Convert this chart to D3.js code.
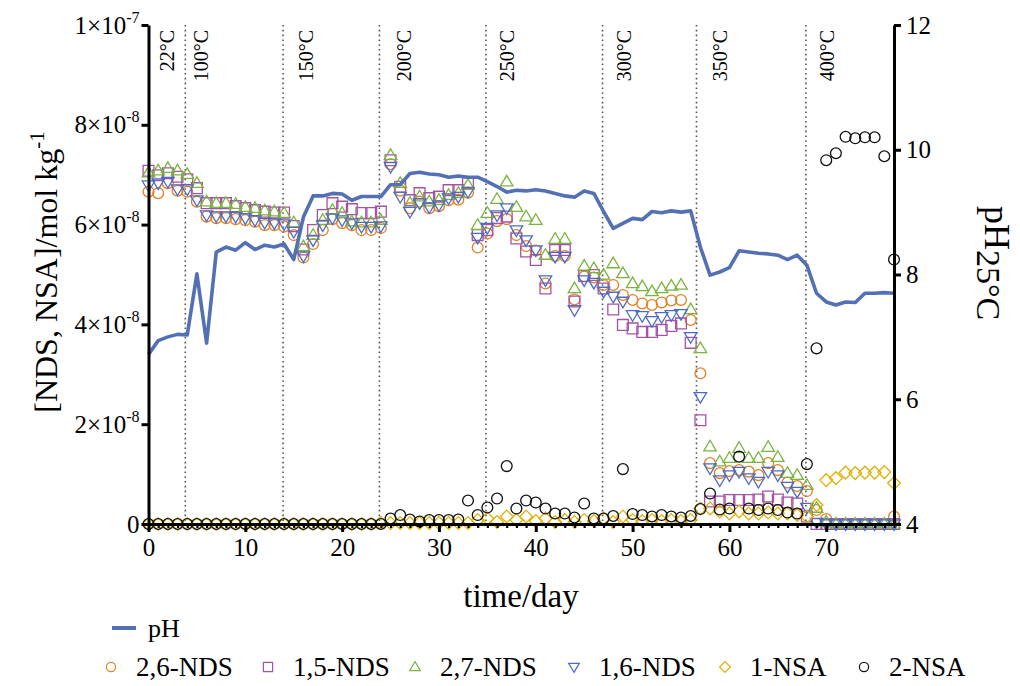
<!DOCTYPE html>
<html>
<head>
<meta charset="utf-8">
<script src="https://cdn.jsdelivr.net/npm/d3@7/dist/d3.min.js"></script>
<style>
  body { margin: 0; background: #fff; }
  svg { display: block; }
  svg text { font-family: "Liberation Serif", "Times New Roman", serif !important; fill: #000; }
</style>
</head>
<body>
<svg id="chart" width="1020" height="686"></svg>
<script>
// Sampling days
const days = [0,1,2,3,4,5,6,7,8,9,10,11,12,13,14,15,16,17,18,19,20,21,22,23,24,25,26,27,28,29,
  30,31,32,33,34,35,36,37,38,39,40,41,42,43,44,45,46,47,48,49,50,51,52,53,54,55,56,57,58,59,
  60,61,62,63,64,65,66,67,68,69,70,71,72,73,74,75,76,77];

// Concentrations in units of 1e-8 mol/kg
const nds26 = [6.66,6.63,6.83,6.68,6.66,6.46,6.16,6.13,6.13,6.11,6.09,6.06,5.99,5.99,5.96,5.79,5.34,5.61,5.89,6.11,
  6.03,5.99,5.89,5.89,5.93,7.21,6.68,6.33,6.46,6.33,6.37,6.49,6.50,6.64,5.54,5.82,6.07,6.11,5.79,5.57,
  5.48,4.82,5.37,5.37,4.50,4.96,4.94,4.79,4.79,4.59,4.49,4.42,4.39,4.44,4.48,4.49,4.09,3.02,1.22,1.02,
  1.06,1.08,1.05,0.98,1.22,1.08,0.83,0.76,0.66,0.28,0.10,0,0,0,0,0,0,0.15];
const nds15 = [7.08,6.99,7.03,6.96,6.91,6.73,6.43,6.43,6.43,6.37,6.33,6.29,6.26,6.24,6.24,5.97,5.50,5.89,6.19,6.43,
  6.36,6.31,6.23,6.23,6.26,7.29,6.76,6.49,6.63,6.53,6.56,6.69,6.69,6.83,5.79,5.89,6.13,6.16,5.72,5.46,
  5.29,4.72,5.49,5.49,4.46,4.97,4.99,4.72,4.30,3.99,3.92,3.85,3.85,3.89,3.97,4.02,3.63,2.08,0.45,0.45,
  0.48,0.48,0.48,0.49,0.55,0.49,0.43,0.41,0.15,0,0,0,0,0,0,0,0,0];
const nds27 = [7.04,7.08,7.13,7.08,7.01,6.83,6.46,6.43,6.43,6.41,6.35,6.33,6.28,6.26,6.23,6.04,5.56,5.79,6.09,6.29,
  6.23,6.06,6.04,6.04,6.09,7.39,6.83,6.43,6.56,6.46,6.49,6.59,6.63,6.79,5.99,6.23,6.51,6.86,6.35,6.16,
  6.09,5.39,5.71,5.71,4.72,5.17,5.12,4.99,5.22,5.02,4.82,4.76,4.66,4.72,4.77,4.79,4.30,3.52,1.55,1.25,
  1.32,1.52,1.32,1.32,1.54,1.34,1.02,0.98,0.78,0.32,0.04,0,0,0,0,0,0,0];
const nds16 = [6.79,6.83,6.86,6.71,6.71,6.49,6.19,6.17,6.17,6.16,6.13,6.09,6.04,6.03,6.01,5.86,5.37,5.69,5.99,6.13,
  6.09,6.03,5.96,5.96,5.97,7.16,6.56,6.26,6.43,6.35,6.39,6.53,6.56,6.66,5.74,5.94,6.19,6.33,5.89,5.69,
  5.49,4.89,5.36,5.36,4.29,4.89,4.84,4.66,4.56,4.46,4.19,4.17,4.07,4.15,4.19,4.21,3.75,2.55,1.12,0.88,
  0.98,1.05,0.92,0.85,1.05,0.98,0.75,0.65,0.33,0.03,0,0,0,0,0,0,0,0];
const nsa1 = [0,0,0,0,0,0,0,0,0,0,0,0,0,0,0,0,0,0,0,0,
  0,0,0,0,0.02,0.02,0.02,0.02,0.02,0.02,0.02,0.02,0.02,0.02,0.08,0.11,0.04,0.15,0.08,0.15,
  0.06,0.11,0.04,0.08,0.04,0.08,0.06,0.11,0.04,0.15,0.08,0.06,0.08,0.06,0.08,0.06,0.08,0.31,0.31,0.25,
  0.21,0.25,0.21,0.21,0.23,0.21,0.21,0.18,0.15,0.38,0.88,0.92,1.03,1.02,1.03,1.03,1.04,0.82];
const nsa2 = [0,0,0,0,0,0,0,0,0,0,0,0,0,0,0,0,0,0,0,0,
  0,0,0,0,0,0.11,0.18,0.09,0.05,0.08,0.08,0.08,0.09,0.47,0.18,0.33,0.51,1.16,0.31,0.47,
  0.43,0.31,0.21,0.21,0.13,0.41,0.11,0.11,0.16,1.10,0.20,0.18,0.15,0.18,0.15,0.13,0.16,0.30,0.61,0.29,
  0.31,1.35,0.31,0.28,0.31,0.28,0.23,0.21,1.20,3.52,7.29,7.43,7.76,7.73,7.75,7.75,7.37,5.30];

// pH at 25 °C
const pH = [6.72,6.94,7.00,7.04,7.03,8.01,6.90,8.36,8.44,8.39,8.51,8.40,8.47,8.44,8.49,8.24,8.92,9.26,9.26,9.30,
  9.29,9.19,9.25,9.25,9.25,9.44,9.44,9.62,9.64,9.61,9.60,9.56,9.58,9.56,9.56,9.49,9.41,9.32,9.35,9.34,
  9.36,9.34,9.30,9.26,9.24,9.34,9.30,9.01,8.74,8.82,8.90,8.88,9.01,8.99,9.02,9.00,9.02,8.44,7.99,8.04,
  8.11,8.38,8.36,8.34,8.33,8.31,8.24,8.31,8.15,7.70,7.56,7.51,7.56,7.55,7.70,7.70,7.71,7.70];

// Temperature stages: change-over day and label anchor day
const stageDays   = [3.8, 13.9, 23.85, 34.85, 46.9, 56.6, 67.9];
const stageLabels = ["22°C","100°C","150°C","200°C","250°C","300°C","350°C","400°C"];
const labelDays   = [2.6, 6.1, 17.0, 27.1, 37.8, 49.8, 59.8, 70.8];

const xTicks = [0,10,20,30,40,50,60,70];
const leftTicks = [0, 2e-8, 4e-8, 6e-8, 8e-8, 1e-7];
const leftTickLabels = [["0",""],["2×10","-8"],["4×10","-8"],["6×10","-8"],["8×10","-8"],["1×10","-7"]];
const rightTicks = [4,6,8,10,12];

const seriesNames = ["2,6-NDS","1,5-NDS","2,7-NDS","1,6-NDS","1-NSA","2-NSA"];
const seriesVals  = [nds26, nds15, nds27, nds16, nsa1, nsa2];
const seriesColors = ["#E67E22","#A653A6","#7AB43E","#4A6CC4","#E0B000","#111111"];
const seriesShapes = ["circle","square","triangle","invtriangle","diamond","circle"];

const FONT = '"Liberation Serif", "Times New Roman", serif';
const svg = d3.select("#chart");
const x = d3.scaleLinear().domain([0, 77]).range([148.5, 894]);
const yL = d3.scaleLinear().domain([0, 1e-7]).range([524, 25]);
const yR = d3.scaleLinear().domain([4, 12]).range([524, 25]);

function shapePath(kind, s) {
  const p = d3.path();
  if (kind === "circle") { p.moveTo(s, 0); p.arc(0, 0, s, 0, 2 * Math.PI); }
  else if (kind === "square") { p.rect(-s, -s, 2 * s, 2 * s); }
  else if (kind === "triangle") { const h = s * 1.18; p.moveTo(0, -h); p.lineTo(h * 0.98, h * 0.66); p.lineTo(-h * 0.98, h * 0.66); p.closePath(); }
  else if (kind === "invtriangle") { const h = s * 1.18; p.moveTo(0, h); p.lineTo(h * 0.98, -h * 0.66); p.lineTo(-h * 0.98, -h * 0.66); p.closePath(); }
  else if (kind === "diamond") { const d = s * 1.18; p.moveTo(0, -d); p.lineTo(d, 0); p.lineTo(0, d); p.lineTo(-d, 0); p.closePath(); }
  return p.toString();
}

// Temperature stage dividers
svg.append("g").selectAll("line").data(stageDays).join("line")
  .attr("x1", d => x(d)).attr("x2", d => x(d))
  .attr("y1", yL(1e-7)).attr("y2", yL(0))
  .attr("stroke", "#555").attr("stroke-width", 1.6).attr("stroke-dasharray", "1.6,3.2");

svg.append("g").selectAll("text").data(stageLabels).join("text")
  .attr("transform", (d, i) => `translate(${x(labelDays[i])},30) rotate(-90)`)
  .attr("text-anchor", "end")
  .style("font-family", FONT)
  .style("font-size", "20px")
  .text(d => d);

// Concentration markers
const gMarks = svg.append("g");
seriesVals.forEach((vals, si) => {
  gMarks.append("g").selectAll("path").data(days).join("path")
    .attr("transform", (d, i) => `translate(${x(d)},${yL(vals[i] * 1e-8)})`)
    .attr("d", shapePath(seriesShapes[si], 5.4))
    .attr("fill", "none")
    .attr("stroke", seriesColors[si])
    .attr("stroke-width", 1.3);
});

// pH line (right axis)
svg.append("path")
  .datum(days)
  .attr("fill", "none")
  .attr("stroke", "#5470B4")
  .attr("stroke-width", 3.6)
  .attr("stroke-linejoin", "round")
  .attr("d", d3.line().x(d => x(d)).y((d, i) => yR(pH[i])));

// Axes
const axisStyle = g => {
  g.attr("font-family", FONT);
  g.select(".domain").attr("stroke-width", 3);
  g.selectAll(".tick line").attr("stroke-width", 3);
};

// bottom: minor ticks each day, major every 10
svg.append("g").attr("transform", "translate(0,524)")
  .call(d3.axisBottom(x).tickValues(days.filter(d => d % 10 !== 0)).tickSize(4).tickFormat("").tickSizeOuter(0))
  .call(g => { g.select(".domain").remove(); g.selectAll(".tick line").attr("stroke-width", 2.2); });
svg.append("g").attr("transform", "translate(0,524)")
  .call(d3.axisBottom(x).tickValues(xTicks).tickSize(8).tickSizeOuter(0).tickPadding(6))
  .call(axisStyle)
  .call(g => g.selectAll(".tick text").style("font-size", "25px"));

// left
const gl = svg.append("g").attr("transform", "translate(148.5,0)")
  .call(d3.axisLeft(yL).tickValues(leftTicks).tickSize(7).tickSizeOuter(0).tickFormat(""))
  .call(axisStyle);
gl.selectAll(".tick").each(function (d, i) {
  const t = d3.select(this).append("text")
    .attr("x", -9).attr("y", 8).attr("text-anchor", "end")
    .style("font-size", "25px").attr("fill", "#000");
  t.append("tspan").text(leftTickLabels[i][0]);
  if (leftTickLabels[i][1]) t.append("tspan").attr("dy", -11).style("font-size", "16px").text(leftTickLabels[i][1]);
});

// right
svg.append("g").attr("transform", "translate(894,0)")
  .call(d3.axisRight(yR).tickValues(rightTicks).tickSize(7).tickSizeOuter(0).tickPadding(5))
  .call(axisStyle)
  .call(g => g.selectAll(".tick text").style("font-size", "25px"));

// Axis titles
svg.append("text").attr("x", 521).attr("y", 607).attr("text-anchor", "middle")
  .style("font-size", "33px").text("time/day");

const lt = svg.append("text").attr("transform", "translate(57,272) rotate(-90)")
  .attr("text-anchor", "middle").style("font-size", "32px");
lt.append("tspan").text("[NDS, NSA]/mol kg");
lt.append("tspan").attr("dy", -13).style("font-size", "21px").text("-1");

const rt = svg.append("text").attr("transform", "translate(985,206) rotate(90)")
  .style("font-size", "36px");
rt.append("tspan").text("pH");
rt.append("tspan").attr("dy", 8).style("font-size", "34px").text("25°C");

// Legend
const leg = svg.append("g");
leg.append("line").attr("x1", 112).attr("x2", 136).attr("y1", 628).attr("y2", 628)
  .attr("stroke", "#5470B4").attr("stroke-width", 4);
leg.append("text").attr("x", 148).attr("y", 637).style("font-size", "26px").text("pH");

const legX = [111, 268, 415, 574, 725, 864];
seriesNames.forEach((name, i) => {
  leg.append("path").attr("transform", `translate(${legX[i]},667)`)
    .attr("d", shapePath(seriesShapes[i], 4.6))
    .attr("fill", "none").attr("stroke", seriesColors[i]).attr("stroke-width", 1.2);
  leg.append("text").attr("x", legX[i] + 25).attr("y", 676).style("font-size", "27px").text(name);
});
</script>
</body>
</html>
